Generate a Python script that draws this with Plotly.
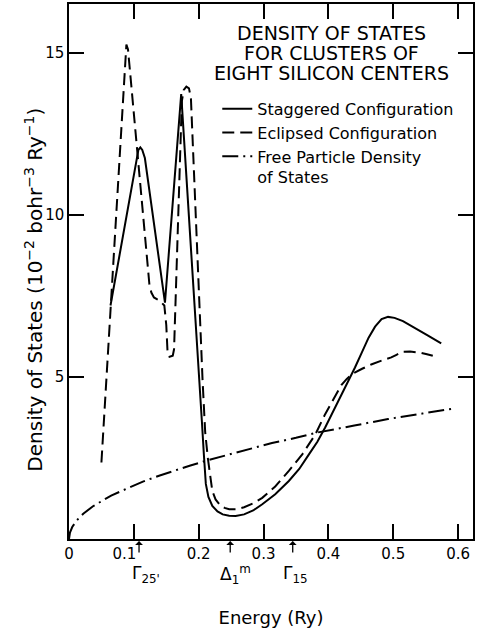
import plotly.graph_objects as go

# ---- data ----
stag_E = [0.064, 0.104, 0.107, 0.110, 0.113, 0.117, 0.148, 0.173, 0.193, 0.201, 0.205, 0.208,
          0.211, 0.215, 0.221, 0.229, 0.237, 0.247, 0.257, 0.270, 0.284, 0.298, 0.318, 0.339,
          0.355, 0.370, 0.383, 0.395, 0.408, 0.421, 0.431, 0.441, 0.452, 0.462, 0.472, 0.482,
          0.492, 0.502, 0.515, 0.533, 0.553, 0.574]
stag_D = [7.2, 11.75, 12.0, 12.08, 12.0, 11.75, 7.29, 13.72, 7.6, 5.1, 3.6, 2.6,
          1.7, 1.3, 1.02, 0.85, 0.76, 0.72, 0.71, 0.76, 0.88, 1.07, 1.38, 1.79,
          2.16, 2.61, 3.0, 3.44, 3.95, 4.47, 4.88, 5.29, 5.77, 6.21, 6.55, 6.78,
          6.85, 6.82, 6.72, 6.52, 6.28, 6.03]

ecl_E = [0.050, 0.087, 0.0885, 0.091, 0.124, 0.127, 0.131, 0.140, 0.147, 0.150, 0.152, 0.155,
         0.160, 0.162, 0.166, 0.170, 0.174, 0.177, 0.181, 0.185, 0.188, 0.206, 0.210, 0.214,
         0.218, 0.221, 0.226, 0.232, 0.240, 0.247, 0.258, 0.270, 0.284, 0.298, 0.318, 0.339,
         0.360, 0.380, 0.395, 0.411, 0.420, 0.428, 0.436, 0.452, 0.467, 0.482, 0.497, 0.505,
         0.514, 0.526, 0.540, 0.552, 0.561]
ecl_D = [2.36, 15.0, 15.25, 15.1, 7.85, 7.6, 7.45, 7.35, 7.2, 6.6, 5.75, 5.62,
         5.65, 5.85, 8.5, 11.6, 13.5, 13.85, 13.95, 13.9, 13.6, 4.88, 3.3, 2.51,
         1.85, 1.48, 1.22, 1.07, 0.96, 0.92, 0.92, 0.98, 1.1, 1.27, 1.62, 2.1,
         2.62, 3.23, 3.85, 4.45, 4.75, 4.93, 5.08, 5.25, 5.39, 5.5, 5.6, 5.68,
         5.77, 5.78, 5.75, 5.7, 5.65]

free_E = [0.0, 0.0015, 0.005, 0.0118, 0.022, 0.037, 0.065, 0.090, 0.114, 0.140, 0.165, 0.186,
          0.214, 0.242, 0.278, 0.313, 0.350, 0.382, 0.440, 0.492, 0.545, 0.595]
free_D = [0.0, 0.2, 0.37, 0.57, 0.78, 1.01, 1.34, 1.57, 1.77, 1.96, 2.13, 2.26,
          2.43, 2.58, 2.77, 2.96, 3.12, 3.28, 3.5, 3.7, 3.87, 4.03]

x_ticks = [0, 0.1, 0.2, 0.3, 0.4, 0.5, 0.6]
x_ticktext = ["0", "0.1\u00a0\u00a0\u00a0\u00a0", "0.2", "0.3", "0.4", "0.5", "0.6"]
y_ticks = [5, 10, 15]
y_ticktext = ["5", "10", "15"]

point_E = [0.108, 0.2486, 0.345]
point_labels = ["\u0393<sub>25'</sub>", "\u0394<sub>1</sub><sup>m</sup>", "\u0393<sub>15</sub>"]
point_label_E = [0.118, 0.257, 0.350]

title_lines = ["DENSITY OF STATES", "FOR CLUSTERS OF", "EIGHT SILICON CENTERS"]
series_names = ["Staggered Configuration", "Eclipsed Configuration",
                "Free Particle Density<br>of States"]
y_title = "Density of States (10<sup>\u22122</sup> bohr<sup>\u22123</sup> Ry<sup>\u22121</sup>)"

FONT = "DejaVu Sans"
W, H = 477, 628
ML, MR, MT, MB = 69, 2, 3, 89
PW, PH = W - ML - MR, H - MT - MB


def py_to_paper(py):
    return (H - MB - py) / PH


def px_to_paper(px):
    return (px - ML) / PW


fig = go.Figure()
fig.add_trace(go.Scatter(x=stag_E, y=stag_D, mode="lines", name=series_names[0],
                         line=dict(color="black", width=2)))
fig.add_trace(go.Scatter(x=ecl_E, y=ecl_D, mode="lines", name=series_names[1],
                         line=dict(color="black", width=2, dash="12px,6px")))
fig.add_trace(go.Scatter(x=free_E, y=free_D, mode="lines", name=series_names[2],
                         line=dict(color="black", width=2, dash="16px,5px,2px,5px")))

axis_common = dict(showline=True, linecolor="black", linewidth=1.5, mirror="ticks",
                   ticks="inside", ticklen=15, tickwidth=1.5, tickcolor="black",
                   showgrid=False, zeroline=False,
                   tickfont=dict(family=FONT, size=15, color="black"))

fig.update_layout(
    width=W, height=H,
    margin=dict(l=ML, r=MR, t=MT, b=MB),
    paper_bgcolor="white", plot_bgcolor="white",
    font=dict(family=FONT, color="black"),
    xaxis=dict(range=[0, 0.623], tickvals=x_ticks, ticktext=x_ticktext,
               title=dict(text="Energy (Ry)", font=dict(family=FONT, size=18), standoff=50),
               **axis_common),
    yaxis=dict(range=[0, 16.5], tickvals=y_ticks, ticktext=y_ticktext, **axis_common),
    showlegend=True,
    legend=dict(x=px_to_paper(218), y=py_to_paper(91), xanchor="left", yanchor="top",
                bgcolor="rgba(0,0,0,0)", font=dict(family=FONT, size=16, color="black"),
                valign="top", tracegroupgap=0),
)

# y-axis title, placed as in the reference (slightly below the plot centre)
fig.add_annotation(text=y_title, xref="paper", yref="paper", x=px_to_paper(34),
                   y=py_to_paper(289), xanchor="center", yanchor="middle", textangle=-90,
                   showarrow=False, font=dict(family=FONT, size=20, color="black"))

# title block inside the plot
for i, t in enumerate(title_lines):
    fig.add_annotation(text=t, xref="paper", yref="paper", x=px_to_paper(333),
                       y=py_to_paper(32 + 20 * i), xanchor="center", yanchor="middle",
                       showarrow=False, font=dict(family=FONT, size=19, color="black"))

# symmetry point arrows and labels below the axis
for e, lab, le in zip(point_E, point_labels, point_label_E):
    fig.add_annotation(x=e, y=py_to_paper(541), xref="x", yref="paper", text="",
                       showarrow=True, ax=0, ay=13, arrowhead=1, arrowsize=1,
                       arrowwidth=1.3, arrowcolor="black")
    fig.add_annotation(x=le, y=py_to_paper(575), xref="x", yref="paper", text=lab,
                       showarrow=False, xanchor="center", yanchor="middle",
                       font=dict(family=FONT, size=17, color="black"))

fig.write_html("out.html")
